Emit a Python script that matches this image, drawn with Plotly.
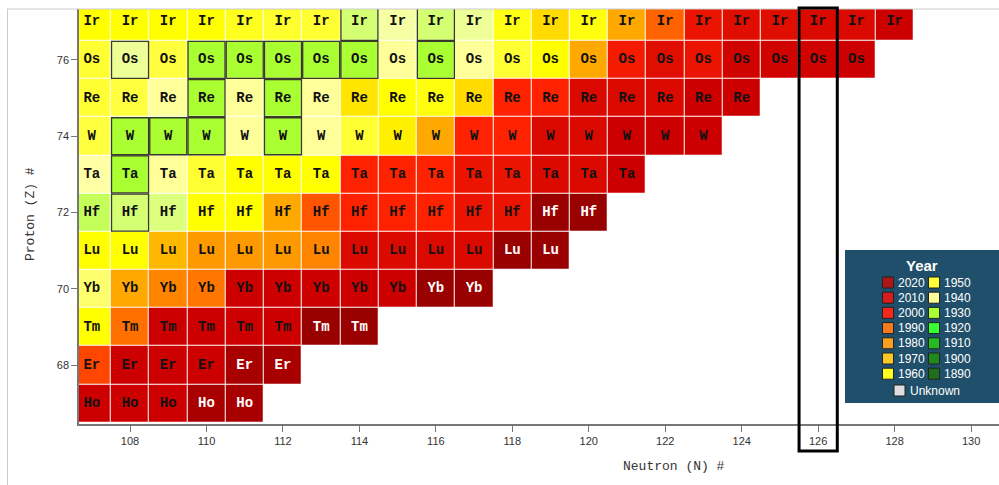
import plotly.graph_objects as go

# ---------------- data ----------------
proton_numbers = [67, 68, 69, 70, 71, 72, 73, 74, 75, 76, 77]
element_symbols = ["Ho", "Er", "Tm", "Yb", "Lu", "Hf", "Ta", "W", "Re", "Os", "Ir"]
first_neutron = 107

# estimated discovery years per row, starting at N = 107
years_ho = [2010, 2010, 2010, 2017, 2017]
years_er = [1993, 2010, 2010, 2010, 2017, 2017]
years_tm = [1960, 1986, 2010, 2010, 2010, 2010, 2020, 2020]
years_yb = [1946, 1977, 1983, 1985, 2010, 2010, 2010, 2010, 2010, 2020, 2020]
years_lu = [1960, 1960, 1974, 1980, 1980, 1980, 1983, 2007, 2007, 2007, 2007, 2020, 2020]
years_hf = [1933, 1935, 1936, 1960, 1960, 1977, 1990, 2000, 2000, 2000, 2004, 2004, 2020, 2020]
years_ta = [1941, 1930, 1942, 1952, 1960, 1960, 1960, 2000, 2000, 2000, 2004, 2004, 2007, 2007, 2010]
years_w = [1950, 1930, 1930, 1930, 1942, 1930, 1942, 1952, 1963, 1977, 2000, 2000, 2007, 2007, 2010, 2010, 2010]
years_re = [1952, 1950, 1942, 1930, 1942, 1930, 1942, 1965, 1960, 1958, 1967, 2000, 2000, 2007, 2007, 2007, 2010, 2010]
years_os = [1952, 1938, 1950, 1930, 1930, 1930, 1930, 1930, 1942, 1930, 1942, 1952, 1960, 1977, 2002, 2006, 2004, 2009, 2009, 2009, 2010]
years_ir = [1960, 1960, 1960, 1960, 1955, 1953, 1952, 1935, 1939, 1935, 1938, 1957, 1967, 1958, 1977, 1988, 2004, 2006, 2006, 2007, 2007, 2010]

row_years = [years_ho, years_er, years_tm, years_yb, years_lu, years_hf,
             years_ta, years_w, years_re, years_os, years_ir]

# outlined cells (Z, N)
outlined_cells = [(77, 114), (77, 116), (76, 108), (76, 110), (76, 111), (76, 112),
                  (76, 113), (76, 114), (76, 116), (75, 110), (75, 112), (74, 108),
                  (74, 109), (74, 110), (74, 112), (73, 108), (72, 108)]

highlight_neutron = 126

x_ticks = [108, 110, 112, 114, 116, 118, 120, 122, 124, 126, 128, 130]
y_ticks = [68, 70, 72, 74, 76]

legend_years_left = [2020, 2010, 2000, 1990, 1980, 1970, 1960]
legend_colors_left = ["#b01515", "#d81c1c", "#f5281a", "#f57a1e", "#f9a020", "#fcc828", "#ffff22"]
legend_years_right = [1950, 1940, 1930, 1920, 1910, 1900, 1890]
legend_colors_right = ["#ffff33", "#ffff99", "#aaff33", "#33ff33", "#22bb22", "#1e8a1e", "#1e6e1e"]

# ---------------- build grid ----------------
YMIN, YMAX = 1890, 2020
stops = [(1890, "#1e6e1e"), (1900, "#1e8a1e"), (1910, "#22bb22"), (1920, "#33ff33"),
         (1930, "#aaff33"), (1940, "#ffffb0"), (1950, "#ffff40"), (1960, "#ffff00"),
         (1970, "#ffcc00"), (1980, "#ff9900"), (1990, "#ff5500"), (2000, "#ff2200"),
         (2010, "#cc0000"), (2020, "#990000")]
colorscale = [[(y - YMIN) / (YMAX - YMIN), c] for y, c in stops]

max_len = max(len(r) for r in row_years)
neutrons = list(range(first_neutron, first_neutron + max_len))
z_grid = []
for yrs in row_years:
    z_grid.append(yrs + [None] * (max_len - len(yrs)))

tx_dark, ty_dark, tt_dark = [], [], []
tx_light, ty_light, tt_light = [], [], []
for z, sym, yrs in zip(proton_numbers, element_symbols, row_years):
    for i, yv in enumerate(yrs):
        n = first_neutron + i
        if yv >= 2015:
            tx_light.append(n); ty_light.append(z); tt_light.append(sym)
        else:
            tx_dark.append(n); ty_dark.append(z); tt_dark.append(sym)

fig = go.Figure()
fig.add_trace(go.Heatmap(
    x=neutrons, y=proton_numbers, z=z_grid,
    colorscale=colorscale, zmin=YMIN, zmax=YMAX, showscale=False,
    xgap=1, ygap=1, hoverinfo="skip"))

fig.add_trace(go.Scatter(
    x=[c[1] for c in outlined_cells], y=[c[0] for c in outlined_cells],
    mode="markers", hoverinfo="skip", showlegend=False,
    marker=dict(symbol="square", size=37, color="rgba(0,0,0,0)",
                line=dict(color="#3a3a2a", width=1.3))))

cell_font = "Courier New, Liberation Mono, monospace"
fig.add_trace(go.Scatter(
    x=tx_dark, y=ty_dark, text=tt_dark, mode="text", hoverinfo="skip", showlegend=False,
    textfont=dict(family=cell_font, size=14, color="#111111", weight="bold")))
fig.add_trace(go.Scatter(
    x=tx_light, y=ty_light, text=tt_light, mode="text", hoverinfo="skip", showlegend=False,
    textfont=dict(family=cell_font, size=14, color="#ffffff", weight="bold")))

# ---------------- layout ----------------
FIG_W, FIG_H = 999, 485
PL, PT, PR, PB = 79, 9, 999, 424  # plot area in screen pixels
PW, PH = PR - PL, PB - PT


def px(xp):
    return (xp - PL) / PW


def py(yp):
    return (PB - yp) / PH


shapes = []
annotations = []


def label(xs, ys, text, font, xanchor="center", **kw):
    annotations.append(dict(xref="paper", yref="paper", x=px(xs), y=py(ys), text=text,
                            showarrow=False, xanchor=xanchor, yanchor="middle",
                            borderpad=0, font=font, **kw))


# outer frame lines
shapes.append(dict(type="line", xref="paper", yref="paper", x0=px(7), x1=px(1005),
                   y0=py(9), y1=py(9), line=dict(color="#cccccc", width=1)))
shapes.append(dict(type="line", xref="paper", yref="paper", x0=px(7.5), x1=px(7.5),
                   y0=py(9), y1=py(490), line=dict(color="#cccccc", width=1)))

# highlight column
shapes.append(dict(type="rect", xref="x", yref="paper",
                   x0=highlight_neutron - 0.5, x1=highlight_neutron + 0.5,
                   y0=py(451), y1=py(8), line=dict(color="#000000", width=3),
                   fillcolor="rgba(0,0,0,0)", layer="above"))

# legend box
legend_font = dict(family="Arial, Liberation Sans, sans-serif", size=12, color="white")
shapes.append(dict(type="rect", xref="paper", yref="paper", x0=px(845), x1=px(1010),
                   y0=py(403), y1=py(250), fillcolor="#1f4f6a", line=dict(width=0),
                   layer="above"))
label(922, 265, "<b>Year</b>", dict(family="Arial, Liberation Sans, sans-serif", size=15, color="white"))
row_y = [282.5, 297.7, 312.9, 328.1, 343.3, 358.5, 373.7]
for i in range(len(legend_years_left)):
    for cx, col, yr in ((888, legend_colors_left[i], legend_years_left[i]),
                        (934, legend_colors_right[i], legend_years_right[i])):
        shapes.append(dict(type="rect", xref="paper", yref="paper",
                           x0=px(cx - 5.5), x1=px(cx + 5.5), y0=py(row_y[i] + 5.5), y1=py(row_y[i] - 5.5),
                           fillcolor=col, line=dict(color="#222222", width=1), layer="above"))
        label(cx + 8.5, row_y[i], str(yr), legend_font, xanchor="left")
shapes.append(dict(type="rect", xref="paper", yref="paper",
                   x0=px(894), x1=px(905), y0=py(396), y1=py(385),
                   fillcolor="#dddddd", line=dict(color="#222222", width=1), layer="above"))
label(909, 390.5, "Unknown", legend_font, xanchor="left")

# axis titles
label(674, 466, "Neutron (N) #", dict(family=cell_font, size=13, color="#333333"))
label(30, 214, "Proton (Z) #", dict(family=cell_font, size=13, color="#333333"), textangle=-90)

fig.update_layout(
    width=FIG_W, height=FIG_H,
    margin=dict(l=PL, r=FIG_W - PR, t=PT, b=FIG_H - PB, pad=0),
    paper_bgcolor="white", plot_bgcolor="white",
    showlegend=False,
    shapes=shapes, annotations=annotations,
    xaxis=dict(range=[106.665, 130.73], tickvals=x_ticks, showgrid=False, zeroline=False,
               showline=True, linecolor="#777777", linewidth=1.5, ticks="outside",
               ticklen=6, tickcolor="#777777", automargin=False,
               tickfont=dict(family="Arial, Liberation Sans, sans-serif", size=11, color="#333333")),
    yaxis=dict(range=[66.46, 77.335], tickvals=y_ticks, showgrid=False, zeroline=False,
               showline=True, linecolor="#777777", linewidth=1.5, ticks="outside",
               ticklen=6, tickcolor="#777777", automargin=False,
               tickfont=dict(family="Arial, Liberation Sans, sans-serif", size=11, color="#333333")),
)

fig.write_html(
    "out.html",
    config={"displayModeBar": False},
    post_script="document.body.style.margin='0';document.body.style.overflow='hidden';",
)
